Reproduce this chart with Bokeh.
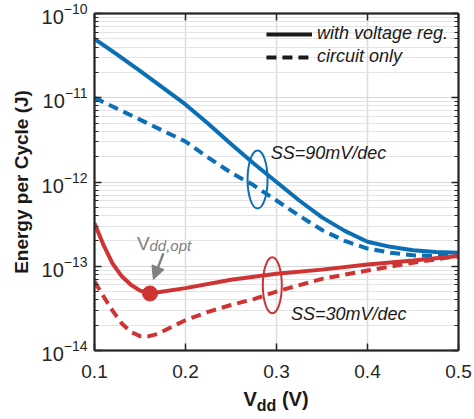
from bokeh.plotting import figure
from bokeh.layouts import column
from bokeh.models import (Range1d, FixedTicker, LinearAxis, LogAxis, Label, Arrow,
                          NormalHead, Legend, LegendItem, CustomJSTickFormatter, Div)
from bokeh.embed import file_html
from bokeh.resources import INLINE

# ---------------- data ----------------
V_BLUE = [0.100, 0.125, 0.150, 0.175, 0.200, 0.225, 0.250, 0.275, 0.300,
          0.325, 0.350, 0.375, 0.400, 0.425, 0.450, 0.475, 0.500]
E_BLUE_REG = [5.01e-11, 3.24e-11, 2.09e-11, 1.32e-11, 8.32e-12, 4.90e-12, 2.82e-12,
              1.66e-12, 1.00e-12, 6.03e-13, 3.80e-13, 2.63e-13, 1.95e-13, 1.70e-13,
              1.55e-13, 1.48e-13, 1.45e-13]
E_BLUE_CKT = [1.00e-11, 7.41e-12, 5.50e-12, 4.07e-12, 3.02e-12, 1.95e-12, 1.29e-12,
              9.12e-13, 6.03e-13, 3.98e-13, 2.69e-13, 2.00e-13, 1.62e-13, 1.45e-13,
              1.35e-13, 1.32e-13, 1.35e-13]

V_RED_REG = [0.10, 0.11, 0.12, 0.13, 0.14, 0.15, 0.16, 0.17, 0.20, 0.25, 0.30,
             0.35, 0.40, 0.45, 0.50]
E_RED_REG = [3.24e-13, 1.78e-13, 1.07e-13, 7.59e-14, 6.03e-14, 5.13e-14, 4.79e-14,
             4.90e-14, 5.50e-14, 6.92e-14, 8.13e-14, 9.12e-14, 1.05e-13, 1.17e-13,
             1.32e-13]

V_RED_CKT = [0.10, 0.11, 0.12, 0.13, 0.14, 0.15, 0.16, 0.17, 0.185, 0.20, 0.225,
             0.25, 0.275, 0.30, 0.35, 0.40, 0.45, 0.50]
E_RED_CKT = [6.61e-14, 4.37e-14, 2.95e-14, 2.09e-14, 1.66e-14, 1.48e-14, 1.48e-14,
             1.58e-14, 1.91e-14, 2.29e-14, 2.88e-14, 3.47e-14, 4.07e-14, 5.01e-14,
             7.08e-14, 8.91e-14, 1.10e-13, 1.32e-13]

V_OPT = [0.161]
E_OPT = [4.75e-14]

X_TICKS = [0.1, 0.2, 0.3, 0.4, 0.5]
X_TICK_LABELS = ["0.1", "0.2", "0.3", "0.4", "0.5"]
Y_TICKS = [1e-10, 1e-11, 1e-12, 1e-13, 1e-14]
LEGEND_LABELS = ["with voltage reg.", "circuit only"]
Y_TITLE = "Energy per Cycle (J)"

BLUE = "#0b6fb5"
RED = "#cf3434"
GRAY = "#808080"
AX = "#262626"
FONT = "Liberation Sans"

p = figure(width=474, height=385, output_backend="svg", toolbar_location=None,
           y_axis_type="log", x_range=Range1d(0.1, 0.5), y_range=Range1d(1e-14, 1e-10),
           min_border_left=94, min_border_right=16, min_border_top=13, min_border_bottom=35)
p.background_fill_color = "white"
p.border_fill_color = "white"
p.outline_line_color = AX
p.outline_line_width = 1.5

minor = [m * t for t in [1e-14, 1e-13, 1e-12, 1e-11] for m in range(2, 10)]
yticker = FixedTicker(ticks=Y_TICKS, minor_ticks=minor)
xticker = FixedTicker(ticks=X_TICKS)
blank = CustomJSTickFormatter(code="return ''")

# grids
p.xgrid.ticker = xticker
p.xgrid.grid_line_color = "#dcdcdc"
p.xgrid.grid_line_width = 1.5
p.ygrid.ticker = yticker
p.ygrid.grid_line_color = "#d8d8d8"
p.ygrid.grid_line_width = 1
p.ygrid.minor_grid_line_color = "#e4e4e4"
p.ygrid.minor_grid_line_width = 1


def style_axis(ax, labels=True):
    ax.axis_line_color = AX
    ax.axis_line_width = 2
    ax.major_tick_line_color = AX
    ax.major_tick_line_width = 1.5
    ax.minor_tick_line_color = AX
    ax.minor_tick_line_width = 1
    ax.major_tick_in = 7
    ax.major_tick_out = 0
    ax.minor_tick_in = 4
    ax.minor_tick_out = 0
    if not labels:
        ax.formatter = blank
        ax.major_label_standoff = 0
        ax.major_label_text_font_size = "8px"


xa = p.xaxis[0]
xa.ticker = xticker
style_axis(xa)
xa.minor_tick_in = 0
xa.major_label_overrides = {t: l for t, l in zip(X_TICKS, X_TICK_LABELS)}
xa.major_label_text_font = FONT
xa.major_label_text_font_size = "19px"
xa.major_label_text_color = AX
xa.major_label_standoff = 14

ya = p.yaxis[0]
ya.ticker = yticker
style_axis(ya)
ya.major_label_text_font = FONT
ya.major_label_text_font_size = "20px"
ya.major_label_text_color = AX
ya.major_label_standoff = 7
ya.axis_label = Y_TITLE
ya.axis_label_text_font = FONT
ya.axis_label_text_font_size = "19px"
ya.axis_label_text_font_style = "bold"
ya.axis_label_text_color = "#1a1a1a"
ya.axis_label_standoff = 7

top = LinearAxis(ticker=xticker)
style_axis(top, labels=False)
top.minor_tick_in = 0
p.add_layout(top, "above")
right = LogAxis(ticker=yticker)
style_axis(right, labels=False)
p.add_layout(right, "right")

# curves
p.line(V_BLUE, E_BLUE_CKT, line_color=BLUE, line_width=4, line_dash="10 6", line_cap="butt")
p.line(V_RED_CKT, E_RED_CKT, line_color=RED, line_width=4, line_dash="10 6", line_cap="butt")
p.line(V_BLUE, E_BLUE_REG, line_color=BLUE, line_width=4)
p.line(V_RED_REG, E_RED_REG, line_color=RED, line_width=4)
p.scatter(V_OPT, E_OPT, size=15, color=RED)

# annotation glyphs
p.ellipse(x=[0.2792], y=[1.07e-12], width=20, height=58, width_units="screen",
          height_units="screen", fill_color=None, line_color=BLUE, line_width=2)
p.ellipse(x=[0.2954], y=[5.93e-14], width=19, height=56, width_units="screen",
          height_units="screen", fill_color=None, line_color=RED, line_width=2)

p.add_layout(Label(x=0.2937, y=2.19e-12, text="SS=90mV/dec", text_align="left",
                   text_baseline="middle", text_font=FONT, text_font_size="18px",
                   text_font_style="italic", text_color="#1a1a1a"))
p.add_layout(Label(x=0.3158, y=2.72e-14, text="SS=30mV/dec", text_align="left",
                   text_baseline="middle", text_font=FONT, text_font_size="18px",
                   text_font_style="italic", text_color="#1a1a1a"))

p.add_layout(Label(x=V_OPT[0], y=E_OPT[0], text="V", x_offset=-13, y_offset=50,
                   text_align="left", text_baseline="alphabetic", text_font=FONT,
                   text_font_size="19px", text_color=GRAY))
p.add_layout(Label(x=V_OPT[0], y=E_OPT[0], text="dd,opt", x_offset=-0.5, y_offset=47.5,
                   text_align="left", text_baseline="alphabetic", text_font=FONT,
                   text_font_size="15px", text_font_style="italic", text_color=GRAY))
p.add_layout(Arrow(x_start=0.1757, y_start=1.42e-13, x_end=0.1647, y_end=6.98e-14,
                   line_color=GRAY, line_width=2.5,
                   end=NormalHead(size=13, fill_color=GRAY, line_color=GRAY)))

# legend (black samples)
r1 = p.line([0.3, 0.3], [1e-12, 1e-12], line_color="#1a1a1a", line_width=4, visible=False)
r2 = p.line([0.3, 0.3], [1e-12, 1e-12], line_color="#1a1a1a", line_width=4,
            line_dash="10 6", visible=False)
leg = Legend(items=[LegendItem(label=LEGEND_LABELS[0], renderers=[r1]),
                    LegendItem(label=LEGEND_LABELS[1], renderers=[r2])],
             location="top_right", glyph_width=46, glyph_height=20, label_height=20,
             spacing=2, padding=0, margin=10, label_standoff=5,
             border_line_color=None, background_fill_alpha=0,
             label_text_font=FONT, label_text_font_size="18px",
             label_text_font_style="italic", label_text_color="#1a1a1a")
p.add_layout(leg, "center")

# x-axis title with subscript
xtitle = Div(text="<b>V<sub style='font-size:16px'>dd</sub> (V)</b>",
             width=396, height=34, margin=(0, 0, 0, 78),
             styles={"text-align": "center", "font-family": FONT, "font-size": "20px",
                     "color": "#1a1a1a", "line-height": "22px", "padding-top": "3px",
                     "width": "396px"})

layout = column(p, xtitle, spacing=0)
open("out.html", "w").write(file_html(layout, INLINE))
